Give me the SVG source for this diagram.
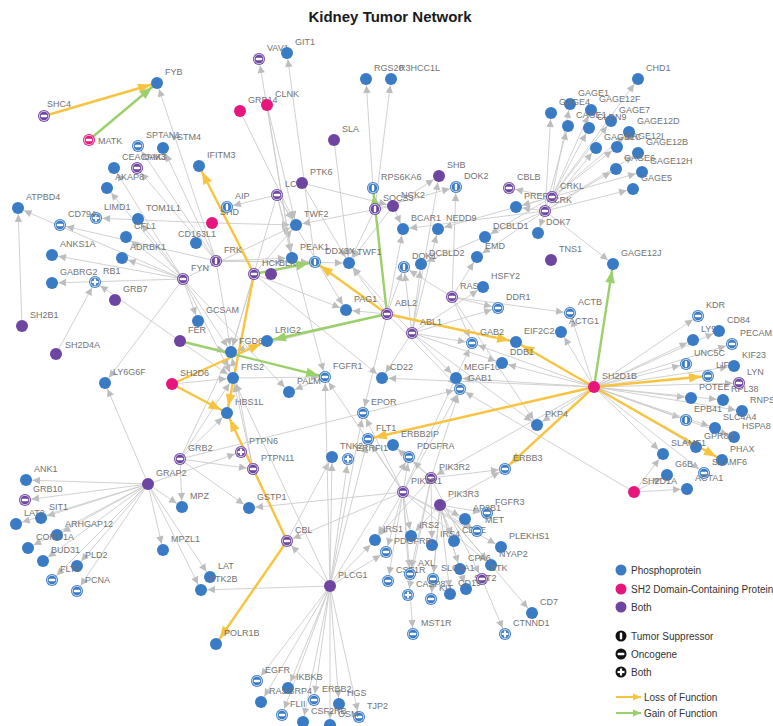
<svg xmlns="http://www.w3.org/2000/svg" xmlns:xlink="http://www.w3.org/1999/xlink" width="773" height="726" viewBox="0 0 773 726">
<style>
.e line{stroke:#cccccc;stroke-width:0.9;marker-end:url(#a)}
.ey line{stroke:#f8c440;stroke-width:2.4;marker-end:url(#ay)}
.eg line{stroke:#9bd06a;stroke-width:2.4;marker-end:url(#ag)}
.b{fill:#3a7bc5}.p{fill:#e6167c}.u{fill:#6f45a2}.k{fill:#111}
.nodes text{font-family:"Liberation Sans",Arial,sans-serif;font-size:9px;fill:#737373}
.lg text{font-family:"Liberation Sans",Arial,sans-serif;font-size:10px;fill:#333}
</style>
<defs>
<marker id="a" markerUnits="userSpaceOnUse" viewBox="0 0 20 10" markerWidth="20" markerHeight="10" refX="20" refY="5" orient="auto"><path d="M6,1.3 L13.5,5 L6,8.7 Z" fill="#bdbdbd"/></marker>
<marker id="ay" markerUnits="userSpaceOnUse" viewBox="0 0 24 12" markerWidth="24" markerHeight="12" refX="24" refY="6" orient="auto"><path d="M5,1.2 L17.5,6 L5,10.8 Z" fill="#f8c440"/></marker>
<marker id="ag" markerUnits="userSpaceOnUse" viewBox="0 0 24 12" markerWidth="24" markerHeight="12" refX="24" refY="6" orient="auto"><path d="M5,1.2 L17.5,6 L5,10.8 Z" fill="#9bd06a"/></marker>
<g id="im"><circle r="4.7" fill="none" stroke="#fff" stroke-width="0.7"/><rect x="-3.3" y="-1.2" width="6.6" height="2.4" rx="1.2" fill="#fff"/></g>
<g id="it"><circle r="4.7" fill="none" stroke="#fff" stroke-width="0.7"/><rect x="-1.2" y="-3.3" width="2.4" height="6.6" rx="1.2" fill="#fff"/></g>
<g id="is"><circle r="4.7" fill="none" stroke="#fff" stroke-width="0.7"/><rect x="-3.3" y="-1.1" width="6.6" height="2.2" fill="#fff"/><rect x="-1.1" y="-3.3" width="2.2" height="6.6" fill="#fff"/></g>
</defs>
<rect width="773" height="726" fill="#fff"/>
<text x="390" y="22" text-anchor="middle" font-family="Liberation Sans,Arial,sans-serif" font-size="15" font-weight="bold" fill="#1a1a1a">Kidney Tumor Network</text>
<g id="connectors">
<g class="e">
<line x1="216" y1="261" x2="157" y2="83"/><line x1="216" y1="261" x2="138" y2="146"/><line x1="216" y1="261" x2="163" y2="148"/>
<line x1="183" y1="279" x2="114" y2="168"/><line x1="216" y1="261" x2="137" y2="168"/><line x1="183" y1="279" x2="107" y2="188"/>
<line x1="212" y1="223" x2="96" y2="218"/><line x1="183" y1="279" x2="138" y2="219"/><line x1="183" y1="279" x2="126" y2="237"/>
<line x1="183" y1="279" x2="122" y2="258"/><line x1="183" y1="279" x2="18" y2="208"/><line x1="22" y1="326" x2="18" y2="208"/>
<line x1="216" y1="261" x2="60" y2="225"/><line x1="183" y1="279" x2="52" y2="255"/><line x1="183" y1="279" x2="52" y2="283"/>
<line x1="180" y1="341" x2="95" y2="282"/><line x1="56" y1="354" x2="95" y2="282"/><line x1="183" y1="279" x2="105" y2="383"/>
<line x1="148" y1="484" x2="105" y2="383"/><line x1="183" y1="279" x2="198" y2="321"/>
<line x1="292" y1="258" x2="259" y2="59"/><line x1="315" y1="262" x2="287" y2="53"/><line x1="240" y1="111" x2="296" y2="225"/>
<line x1="267" y1="105" x2="296" y2="225"/><line x1="267" y1="105" x2="292" y2="258"/><line x1="334" y1="140" x2="349" y2="263"/>
<line x1="373" y1="188" x2="366" y2="79"/><line x1="375" y1="209" x2="391" y2="79"/><line x1="277" y1="195" x2="227" y2="207"/>
<line x1="212" y1="223" x2="296" y2="225"/><line x1="277" y1="195" x2="296" y2="225"/><line x1="302" y1="183" x2="393" y2="206"/>
<line x1="302" y1="183" x2="349" y2="263"/><line x1="183" y1="279" x2="296" y2="225"/><line x1="254" y1="274" x2="296" y2="225"/>
<line x1="393" y1="206" x2="296" y2="225"/><line x1="393" y1="206" x2="349" y2="263"/><line x1="375" y1="209" x2="349" y2="263"/>
<line x1="387" y1="314" x2="349" y2="263"/><line x1="412" y1="333" x2="349" y2="263"/><line x1="216" y1="261" x2="315" y2="262"/>
<line x1="216" y1="261" x2="292" y2="258"/><line x1="277" y1="195" x2="292" y2="258"/>
<line x1="393" y1="206" x2="439" y2="176"/><line x1="375" y1="209" x2="456" y2="187"/><line x1="412" y1="333" x2="439" y2="176"/>
<line x1="452" y1="297" x2="456" y2="187"/><line x1="393" y1="206" x2="403" y2="229"/><line x1="545" y1="211" x2="403" y2="229"/>
<line x1="387" y1="314" x2="403" y2="229"/><line x1="552" y1="197" x2="438" y2="229"/><line x1="412" y1="333" x2="438" y2="229"/>
<line x1="412" y1="333" x2="404" y2="267"/><line x1="387" y1="314" x2="404" y2="267"/><line x1="452" y1="297" x2="404" y2="267"/>
<line x1="545" y1="211" x2="421" y2="264"/><line x1="412" y1="333" x2="421" y2="264"/><line x1="552" y1="197" x2="485" y2="237"/>
<line x1="545" y1="211" x2="477" y2="257"/><line x1="452" y1="297" x2="477" y2="257"/><line x1="552" y1="197" x2="509" y2="188"/>
<line x1="545" y1="211" x2="516" y2="207"/><line x1="552" y1="197" x2="516" y2="207"/><line x1="545" y1="211" x2="538" y2="233"/>
<line x1="552" y1="197" x2="570" y2="104"/><line x1="545" y1="211" x2="551" y2="113"/><line x1="552" y1="197" x2="591" y2="110"/>
<line x1="552" y1="197" x2="611" y2="121"/><line x1="545" y1="211" x2="568" y2="126"/><line x1="552" y1="197" x2="589" y2="128"/>
<line x1="552" y1="197" x2="629" y2="132"/><line x1="545" y1="211" x2="596" y2="148"/><line x1="552" y1="197" x2="617" y2="147"/>
<line x1="545" y1="211" x2="638" y2="153"/><line x1="545" y1="211" x2="616" y2="169"/><line x1="552" y1="197" x2="642" y2="172"/>
<line x1="545" y1="211" x2="633" y2="189"/><line x1="552" y1="197" x2="638" y2="79"/><line x1="545" y1="211" x2="613" y2="264"/>
<line x1="412" y1="333" x2="498" y2="308"/><line x1="452" y1="297" x2="498" y2="308"/><line x1="412" y1="333" x2="483" y2="287"/>
<line x1="452" y1="297" x2="570" y2="313"/><line x1="594" y1="387" x2="570" y2="313"/><line x1="594" y1="387" x2="561" y2="332"/>
<line x1="412" y1="333" x2="472" y2="343"/><line x1="452" y1="297" x2="472" y2="343"/><line x1="403" y1="492" x2="472" y2="343"/>
<line x1="412" y1="333" x2="502" y2="363"/><line x1="594" y1="387" x2="502" y2="363"/><line x1="412" y1="333" x2="456" y2="378"/>
<line x1="594" y1="387" x2="456" y2="378"/><line x1="403" y1="492" x2="460" y2="389"/><line x1="431" y1="478" x2="460" y2="389"/>
<line x1="387" y1="314" x2="460" y2="389"/><line x1="180" y1="459" x2="460" y2="389"/><line x1="634" y1="492" x2="460" y2="389"/>
<line x1="452" y1="297" x2="537" y2="425"/><line x1="594" y1="387" x2="537" y2="425"/><line x1="412" y1="333" x2="537" y2="425"/>
<line x1="431" y1="478" x2="505" y2="469"/><line x1="440" y1="505" x2="505" y2="469"/><line x1="431" y1="478" x2="393" y2="445"/>
<line x1="403" y1="492" x2="409" y2="457"/><line x1="431" y1="478" x2="409" y2="457"/><line x1="330" y1="586" x2="409" y2="457"/>
<line x1="330" y1="586" x2="368" y2="439"/><line x1="403" y1="492" x2="368" y2="439"/><line x1="330" y1="586" x2="348" y2="459"/>
<line x1="330" y1="586" x2="332" y2="457"/><line x1="287" y1="541" x2="332" y2="457"/><line x1="403" y1="492" x2="363" y2="413"/>
<line x1="330" y1="586" x2="363" y2="413"/><line x1="387" y1="314" x2="363" y2="413"/><line x1="594" y1="387" x2="382" y2="378"/>
<line x1="412" y1="333" x2="382" y2="378"/><line x1="330" y1="586" x2="325" y2="377"/><line x1="403" y1="492" x2="325" y2="377"/>
<line x1="233" y1="378" x2="325" y2="377"/><line x1="325" y1="377" x2="289" y2="392"/><line x1="387" y1="314" x2="346" y2="310"/>
<line x1="254" y1="274" x2="346" y2="310"/><line x1="277" y1="195" x2="346" y2="310"/>
<line x1="183" y1="279" x2="231" y2="352"/><line x1="216" y1="261" x2="231" y2="352"/><line x1="180" y1="341" x2="231" y2="352"/>
<line x1="254" y1="274" x2="231" y2="352"/><line x1="180" y1="459" x2="231" y2="352"/><line x1="387" y1="314" x2="231" y2="352"/>
<line x1="253" y1="469" x2="231" y2="352"/><line x1="277" y1="195" x2="231" y2="352"/>
<line x1="183" y1="279" x2="233" y2="378"/><line x1="180" y1="459" x2="233" y2="378"/><line x1="253" y1="469" x2="233" y2="378"/>
<line x1="330" y1="586" x2="233" y2="378"/><line x1="172" y1="384" x2="233" y2="378"/><line x1="180" y1="341" x2="233" y2="378"/>
<line x1="180" y1="459" x2="227" y2="413"/><line x1="148" y1="484" x2="241" y2="452"/><line x1="180" y1="459" x2="253" y2="469"/>
<line x1="180" y1="459" x2="182" y2="507"/><line x1="180" y1="459" x2="249" y2="508"/><line x1="403" y1="492" x2="249" y2="508"/>
<line x1="403" y1="492" x2="287" y2="541"/><line x1="148" y1="484" x2="182" y2="507"/>
<line x1="148" y1="484" x2="26" y2="480"/><line x1="148" y1="484" x2="25" y2="500"/><line x1="148" y1="484" x2="41" y2="518"/>
<line x1="148" y1="484" x2="16" y2="524"/><line x1="148" y1="484" x2="57" y2="535"/><line x1="148" y1="484" x2="28" y2="548"/>
<line x1="148" y1="484" x2="43" y2="561"/><line x1="148" y1="484" x2="77" y2="566"/><line x1="148" y1="484" x2="52" y2="580"/>
<line x1="148" y1="484" x2="77" y2="591"/><line x1="148" y1="484" x2="163" y2="550"/><line x1="148" y1="484" x2="210" y2="577"/>
<line x1="148" y1="484" x2="201" y2="590"/><line x1="330" y1="586" x2="201" y2="590"/><line x1="330" y1="586" x2="287" y2="541"/>
<line x1="330" y1="586" x2="257" y2="681"/><line x1="330" y1="586" x2="288" y2="688"/><line x1="330" y1="586" x2="261" y2="702"/>
<line x1="330" y1="586" x2="282" y2="715"/><line x1="330" y1="586" x2="303" y2="722"/><line x1="330" y1="586" x2="330" y2="725"/>
<line x1="330" y1="586" x2="314" y2="700"/><line x1="330" y1="586" x2="339" y2="704"/><line x1="330" y1="586" x2="359" y2="717"/>
<line x1="330" y1="586" x2="375" y2="540"/><line x1="330" y1="586" x2="386" y2="552"/><line x1="403" y1="492" x2="375" y2="540"/>
<line x1="431" y1="478" x2="375" y2="540"/><line x1="403" y1="492" x2="411" y2="536"/><line x1="440" y1="505" x2="411" y2="536"/>
<line x1="431" y1="478" x2="432" y2="545"/><line x1="403" y1="492" x2="386" y2="552"/><line x1="403" y1="492" x2="388" y2="581"/>
<line x1="403" y1="492" x2="410" y2="574"/><line x1="431" y1="478" x2="410" y2="574"/><line x1="431" y1="478" x2="408" y2="595"/>
<line x1="440" y1="505" x2="431" y2="599"/><line x1="440" y1="505" x2="450" y2="594"/><line x1="440" y1="505" x2="433" y2="579"/>
<line x1="440" y1="505" x2="460" y2="569"/><line x1="440" y1="505" x2="466" y2="589"/><line x1="431" y1="478" x2="482" y2="579"/>
<line x1="440" y1="505" x2="491" y2="565"/><line x1="403" y1="492" x2="491" y2="565"/><line x1="403" y1="492" x2="501" y2="547"/>
<line x1="440" y1="505" x2="454" y2="541"/><line x1="440" y1="505" x2="477" y2="531"/><line x1="403" y1="492" x2="477" y2="531"/>
<line x1="440" y1="505" x2="465" y2="519"/><line x1="440" y1="505" x2="487" y2="513"/><line x1="403" y1="492" x2="413" y2="634"/>
<line x1="482" y1="579" x2="505" y2="634"/><line x1="440" y1="505" x2="532" y2="613"/>
<line x1="594" y1="387" x2="698" y2="316"/><line x1="594" y1="387" x2="693" y2="340"/><line x1="594" y1="387" x2="719" y2="331"/>
<line x1="594" y1="387" x2="732" y2="344"/><line x1="594" y1="387" x2="686" y2="364"/><line x1="594" y1="387" x2="734" y2="366"/>
<line x1="594" y1="387" x2="739" y2="383"/><line x1="594" y1="387" x2="691" y2="398"/><line x1="594" y1="387" x2="723" y2="400"/>
<line x1="594" y1="387" x2="742" y2="411"/><line x1="594" y1="387" x2="686" y2="420"/><line x1="594" y1="387" x2="715" y2="428"/>
<line x1="594" y1="387" x2="734" y2="437"/><line x1="594" y1="387" x2="696" y2="447"/><line x1="594" y1="387" x2="663" y2="454"/>
<line x1="594" y1="387" x2="704" y2="473"/><line x1="634" y1="492" x2="663" y2="454"/><line x1="634" y1="492" x2="667" y2="475"/>
<line x1="634" y1="492" x2="687" y2="489"/><line x1="594" y1="387" x2="431" y2="478"/><line x1="594" y1="387" x2="472" y2="343"/>
<line x1="183" y1="279" x2="289" y2="392"/><line x1="254" y1="274" x2="382" y2="378"/><line x1="216" y1="261" x2="349" y2="263"/>
<line x1="277" y1="195" x2="325" y2="377"/>
</g>
<g class="ey">
<line x1="44" y1="116" x2="157" y2="83"/><line x1="254" y1="274" x2="199" y2="166"/><line x1="254" y1="274" x2="227" y2="413"/>
<line x1="172" y1="384" x2="267" y2="341"/><line x1="172" y1="384" x2="227" y2="413"/><line x1="287" y1="541" x2="227" y2="413"/>
<line x1="287" y1="541" x2="216" y2="644"/><line x1="387" y1="314" x2="315" y2="262"/><line x1="387" y1="314" x2="516" y2="342"/>
<line x1="594" y1="387" x2="516" y2="342"/><line x1="594" y1="387" x2="368" y2="439"/><line x1="594" y1="387" x2="505" y2="469"/>
<line x1="594" y1="387" x2="708" y2="376"/><line x1="594" y1="387" x2="722" y2="460"/>
</g>
<g class="eg">
<line x1="89" y1="140" x2="157" y2="83"/><line x1="254" y1="274" x2="315" y2="262"/><line x1="387" y1="314" x2="267" y2="341"/>
<line x1="387" y1="314" x2="373" y2="188"/><line x1="180" y1="341" x2="325" y2="377"/><line x1="594" y1="387" x2="613" y2="264"/>
</g>
</g>
<g class="nodes">
<g id="n-FYB"><circle class="b" cx="157" cy="83" r="6"/><text x="165" y="74.5">FYB</text></g>
<g id="n-SHC4"><circle class="u" cx="44" cy="116" r="6"/><use href="#im" x="44" y="116"/><text x="47" y="107">SHC4</text></g>
<g id="n-MATK"><circle class="p" cx="89" cy="140" r="6"/><use href="#im" x="89" y="140"/><text x="98" y="143.5">MATK</text></g>
<g id="n-SPTAN1"><circle class="b" cx="138" cy="146" r="6"/><use href="#im" x="138" y="146"/><text x="146" y="137.5">SPTAN1</text></g>
<g id="n-VSTM4"><circle class="b" cx="163" cy="148" r="6"/><text x="171" y="139.5">VSTM4</text></g>
<g id="n-CEACAM3"><circle class="b" cx="114" cy="168" r="6"/><text x="122" y="159.5">CEACAM3</text></g>
<g id="n-JAK3"><circle class="u" cx="137" cy="168" r="6"/><use href="#im" x="137" y="168"/><text x="145" y="159.5">JAK3</text></g>
<g id="n-AKAP8"><circle class="b" cx="107" cy="188" r="6"/><text x="115" y="179.5">AKAP8</text></g>
<g id="n-LIMD1"><circle class="b" cx="96" cy="218" r="6"/><use href="#is" x="96" y="218"/><text x="104" y="209.5">LIMD1</text></g>
<g id="n-TOM1L1"><circle class="b" cx="138" cy="219" r="6"/><text x="146" y="210.5">TOM1L1</text></g>
<g id="n-CFL1"><circle class="b" cx="126" cy="237" r="6"/><text x="134" y="228.5">CFL1</text></g>
<g id="n-ADRBK1"><circle class="b" cx="122" cy="258" r="6"/><text x="130" y="249.5">ADRBK1</text></g>
<g id="n-ATPBD4"><circle class="b" cx="18" cy="208" r="6"/><text x="26" y="199.5">ATPBD4</text></g>
<g id="n-CD79A"><circle class="b" cx="60" cy="225" r="6"/><use href="#im" x="60" y="225"/><text x="68" y="216.5">CD79A</text></g>
<g id="n-ANKS1A"><circle class="b" cx="52" cy="255" r="6"/><text x="60" y="246.5">ANKS1A</text></g>
<g id="n-GABRG2"><circle class="b" cx="52" cy="283" r="6"/><text x="60" y="274.5">GABRG2</text></g>
<g id="n-RB1"><circle class="b" cx="95" cy="282" r="6"/><use href="#is" x="95" y="282"/><text x="103" y="273.5">RB1</text></g>
<g id="n-GRB7"><circle class="u" cx="115" cy="300" r="6"/><text x="123" y="291.5">GRB7</text></g>
<g id="n-SH2B1"><circle class="u" cx="22" cy="326" r="6"/><text x="30" y="317.5">SH2B1</text></g>
<g id="n-SH2D4A"><circle class="u" cx="56" cy="354" r="6"/><text x="65" y="348">SH2D4A</text></g>
<g id="n-LY6G6F"><circle class="b" cx="105" cy="383" r="6"/><text x="113" y="374.5">LY6G6F</text></g>
<g id="n-FYN"><circle class="u" cx="183" cy="279" r="6"/><use href="#im" x="183" y="279"/><text x="191" y="270.5">FYN</text></g>
<g id="n-FRK"><circle class="u" cx="216" cy="261" r="6"/><use href="#it" x="216" y="261"/><text x="224" y="252.5">FRK</text></g>
<g id="n-FER"><circle class="u" cx="180" cy="341" r="6"/><text x="188" y="332.5">FER</text></g>
<g id="n-GCSAM"><circle class="b" cx="198" cy="321" r="6"/><text x="206" y="312.5">GCSAM</text></g>
<g id="n-SH2D6"><circle class="p" cx="172" cy="384" r="6"/><text x="180" y="375.5">SH2D6</text></g>
<g id="n-GRAP2"><circle class="u" cx="148" cy="484" r="6"/><text x="156" y="475.5">GRAP2</text></g>
<g id="n-GRB2"><circle class="u" cx="180" cy="459" r="6"/><use href="#im" x="180" y="459"/><text x="188" y="450.5">GRB2</text></g>
<g id="n-ANK1"><circle class="b" cx="26" cy="480" r="6"/><text x="34" y="471.5">ANK1</text></g>
<g id="n-GRB10"><circle class="u" cx="25" cy="500" r="6"/><use href="#im" x="25" y="500"/><text x="33" y="491.5">GRB10</text></g>
<g id="n-SIT1"><circle class="b" cx="41" cy="518" r="6"/><text x="49" y="509.5">SIT1</text></g>
<g id="n-LAT2"><circle class="b" cx="16" cy="524" r="6"/><text x="24" y="515.5">LAT2</text></g>
<g id="n-ARHGAP12"><circle class="b" cx="57" cy="535" r="6"/><text x="65" y="526.5">ARHGAP12</text></g>
<g id="n-CORO1A"><circle class="b" cx="28" cy="548" r="6"/><text x="36" y="539.5">CORO1A</text></g>
<g id="n-BUD31"><circle class="b" cx="43" cy="561" r="6"/><text x="51" y="552.5">BUD31</text></g>
<g id="n-PLD2"><circle class="b" cx="77" cy="566" r="6"/><text x="85" y="557.5">PLD2</text></g>
<g id="n-FLT3"><circle class="b" cx="52" cy="580" r="6"/><use href="#im" x="52" y="580"/><text x="60" y="571.5">FLT3</text></g>
<g id="n-PCNA"><circle class="b" cx="77" cy="591" r="6"/><use href="#im" x="77" y="591"/><text x="85" y="582.5">PCNA</text></g>
<g id="n-MPZ"><circle class="b" cx="182" cy="507" r="6"/><text x="190" y="498.5">MPZ</text></g>
<g id="n-MPZL1"><circle class="b" cx="163" cy="550" r="6"/><text x="171" y="541.5">MPZL1</text></g>
<g id="n-LAT"><circle class="b" cx="210" cy="577" r="6"/><text x="218" y="568.5">LAT</text></g>
<g id="n-PTK2B"><circle class="b" cx="201" cy="590" r="6"/><text x="209" y="581.5">PTK2B</text></g>
<g id="n-GSTP1"><circle class="b" cx="249" cy="508" r="6"/><text x="257" y="499.5">GSTP1</text></g>
<g id="n-CBL"><circle class="u" cx="287" cy="541" r="6"/><use href="#im" x="287" y="541"/><text x="295" y="532.5">CBL</text></g>
<g id="n-PLCG1"><circle class="u" cx="330" cy="586" r="6"/><text x="338" y="577.5">PLCG1</text></g>
<g id="n-POLR1B"><circle class="b" cx="216" cy="644" r="6"/><text x="224" y="635.5">POLR1B</text></g>
<g id="n-EGFR"><circle class="b" cx="257" cy="681" r="6"/><use href="#im" x="257" y="681"/><text x="265" y="672.5">EGFR</text></g>
<g id="n-IKBKB"><circle class="b" cx="288" cy="688" r="6"/><text x="296" y="679.5">IKBKB</text></g>
<g id="n-RASGRP4"><circle class="b" cx="261" cy="702" r="6"/><text x="269" y="693.5">RASGRP4</text></g>
<g id="n-ERBB2"><circle class="b" cx="314" cy="700" r="6"/><use href="#im" x="314" y="700"/><text x="322" y="691.5">ERBB2</text></g>
<g id="n-HGS"><circle class="b" cx="339" cy="704" r="6"/><text x="347" y="695.5">HGS</text></g>
<g id="n-TJP2"><circle class="b" cx="359" cy="717" r="6"/><use href="#im" x="359" y="717"/><text x="367" y="708.5">TJP2</text></g>
<g id="n-FLII"><circle class="b" cx="282" cy="715" r="6"/><use href="#im" x="282" y="715"/><text x="290" y="706.5">FLII</text></g>
<g id="n-CSF2RB"><circle class="b" cx="303" cy="722" r="6"/><text x="311" y="713.5">CSF2RB</text></g>
<g id="n-OSM"><circle class="b" cx="330" cy="725" r="6"/><text x="338" y="716.5">OSM</text></g>
<g id="n-PTPN6"><circle class="u" cx="241" cy="452" r="6"/><use href="#is" x="241" y="452"/><text x="249" y="443.5">PTPN6</text></g>
<g id="n-PTPN11"><circle class="u" cx="253" cy="469" r="6"/><use href="#im" x="253" y="469"/><text x="261" y="460.5">PTPN11</text></g>
<g id="n-HBS1L"><circle class="b" cx="227" cy="413" r="6"/><text x="235" y="404.5">HBS1L</text></g>
<g id="n-FRS2"><circle class="b" cx="233" cy="378" r="6"/><text x="241" y="369.5">FRS2</text></g>
<g id="n-FGD6"><circle class="b" cx="231" cy="352" r="6"/><text x="239" y="343.5">FGD6</text></g>
<g id="n-LRIG2"><circle class="b" cx="267" cy="341" r="6"/><text x="275" y="332.5">LRIG2</text></g>
<g id="n-PALM"><circle class="b" cx="289" cy="392" r="6"/><text x="297" y="383.5">PALM</text></g>
<g id="n-FGFR1"><circle class="b" cx="325" cy="377" r="6"/><use href="#im" x="325" y="377"/><text x="333" y="368.5">FGFR1</text></g>
<g id="n-PAG1"><circle class="b" cx="346" cy="310" r="6"/><text x="354" y="301.5">PAG1</text></g>
<g id="n-ABL2"><circle class="u" cx="387" cy="314" r="6"/><use href="#im" x="387" y="314"/><text x="395" y="305.5">ABL2</text></g>
<g id="n-ABL1"><circle class="u" cx="412" cy="333" r="6"/><use href="#im" x="412" y="333"/><text x="420" y="324.5">ABL1</text></g>
<g id="n-CD22"><circle class="b" cx="382" cy="378" r="6"/><text x="390" y="369.5">CD22</text></g>
<g id="n-EPOR"><circle class="b" cx="363" cy="413" r="6"/><use href="#im" x="363" y="413"/><text x="371" y="404.5">EPOR</text></g>
<g id="n-FLT1"><circle class="b" cx="368" cy="439" r="6"/><use href="#im" x="368" y="439"/><text x="376" y="430.5">FLT1</text></g>
<g id="n-TNK2"><circle class="b" cx="332" cy="457" r="6"/><text x="340" y="448.5">TNK2</text></g>
<g id="n-ERRFI1"><circle class="b" cx="348" cy="459" r="6"/><use href="#is" x="348" y="459"/><text x="356" y="450.5">ERRFI1</text></g>
<g id="n-ERBB2IP"><circle class="b" cx="393" cy="445" r="6"/><text x="401" y="436.5">ERBB2IP</text></g>
<g id="n-PDGFRA"><circle class="b" cx="409" cy="457" r="6"/><use href="#im" x="409" y="457"/><text x="417" y="448.5">PDGFRA</text></g>
<g id="n-PIK3R2"><circle class="u" cx="431" cy="478" r="6"/><use href="#im" x="431" y="478"/><text x="439" y="469.5">PIK3R2</text></g>
<g id="n-PIK3R1"><circle class="u" cx="403" cy="492" r="6"/><use href="#im" x="403" y="492"/><text x="411" y="483.5">PIK3R1</text></g>
<g id="n-PIK3R3"><circle class="u" cx="440" cy="505" r="6"/><text x="448" y="496.5">PIK3R3</text></g>
<g id="n-FGFR3"><circle class="b" cx="487" cy="513" r="6"/><use href="#im" x="487" y="513"/><text x="495" y="504.5">FGFR3</text></g>
<g id="n-AP2B1"><circle class="b" cx="465" cy="519" r="6"/><text x="473" y="510.5">AP2B1</text></g>
<g id="n-CD3E"><circle class="b" cx="454" cy="541" r="6"/><text x="462" y="532.5">CD3E</text></g>
<g id="n-MET"><circle class="b" cx="477" cy="531" r="6"/><use href="#im" x="477" y="531"/><text x="485" y="522.5">MET</text></g>
<g id="n-PLEKHS1"><circle class="b" cx="501" cy="547" r="6"/><text x="509" y="538.5">PLEKHS1</text></g>
<g id="n-NYAP2"><circle class="b" cx="491" cy="565" r="6"/><text x="499" y="556.5">NYAP2</text></g>
<g id="n-CPA6"><circle class="b" cx="460" cy="569" r="6"/><text x="468" y="560.5">CPA6</text></g>
<g id="n-SYT2"><circle class="b" cx="466" cy="589" r="6"/><text x="474" y="580.5">SYT2</text></g>
<g id="n-BTK"><circle class="u" cx="482" cy="579" r="6"/><use href="#im" x="482" y="579"/><text x="490" y="570.5">BTK</text></g>
<g id="n-CD19"><circle class="b" cx="450" cy="594" r="6"/><text x="458" y="585.5">CD19</text></g>
<g id="n-KIT"><circle class="b" cx="431" cy="599" r="6"/><use href="#im" x="431" y="599"/><text x="439" y="590.5">KIT</text></g>
<g id="n-IRS1"><circle class="b" cx="375" cy="540" r="6"/><text x="383" y="531.5">IRS1</text></g>
<g id="n-IRS2"><circle class="b" cx="411" cy="536" r="6"/><text x="419" y="527.5">IRS2</text></g>
<g id="n-IRS4"><circle class="b" cx="432" cy="545" r="6"/><text x="440" y="536.5">IRS4</text></g>
<g id="n-PDGFRB"><circle class="b" cx="386" cy="552" r="6"/><use href="#im" x="386" y="552"/><text x="394" y="543.5">PDGFRB</text></g>
<g id="n-CSF1R"><circle class="b" cx="388" cy="581" r="6"/><use href="#im" x="388" y="581"/><text x="396" y="572.5">CSF1R</text></g>
<g id="n-AXL"><circle class="b" cx="410" cy="574" r="6"/><use href="#im" x="410" y="574"/><text x="418" y="565.5">AXL</text></g>
<g id="n-SLC4A1"><circle class="b" cx="433" cy="579" r="6"/><use href="#im" x="433" y="579"/><text x="441" y="570.5">SLC4A1</text></g>
<g id="n-CASP8"><circle class="b" cx="408" cy="595" r="6"/><use href="#is" x="408" y="595"/><text x="416" y="586.5">CASP8</text></g>
<g id="n-MST1R"><circle class="b" cx="413" cy="634" r="6"/><use href="#im" x="413" y="634"/><text x="421" y="625.5">MST1R</text></g>
<g id="n-CTNND1"><circle class="b" cx="505" cy="634" r="6"/><use href="#is" x="505" y="634"/><text x="513" y="625.5">CTNND1</text></g>
<g id="n-CD7"><circle class="b" cx="532" cy="613" r="6"/><text x="540" y="604.5">CD7</text></g>
<g id="n-PKP4"><circle class="b" cx="537" cy="425" r="6"/><text x="545" y="416.5">PKP4</text></g>
<g id="n-ERBB3"><circle class="b" cx="505" cy="469" r="6"/><use href="#im" x="505" y="469"/><text x="513" y="460.5">ERBB3</text></g>
<g id="n-MEGF10"><circle class="b" cx="456" cy="378" r="6"/><text x="464" y="369.5">MEGF10</text></g>
<g id="n-GAB1"><circle class="b" cx="460" cy="389" r="6"/><use href="#im" x="460" y="389"/><text x="468" y="380.5">GAB1</text></g>
<g id="n-DDB1"><circle class="b" cx="502" cy="363" r="6"/><text x="510" y="354.5">DDB1</text></g>
<g id="n-GAB2"><circle class="b" cx="472" cy="343" r="6"/><use href="#im" x="472" y="343"/><text x="480" y="334.5">GAB2</text></g>
<g id="n-EIF2C2"><circle class="b" cx="516" cy="342" r="6"/><text x="524" y="333.5">EIF2C2</text></g>
<g id="n-ACTG1"><circle class="b" cx="561" cy="332" r="6"/><text x="569" y="323.5">ACTG1</text></g>
<g id="n-ACTB"><circle class="b" cx="570" cy="313" r="6"/><use href="#im" x="570" y="313"/><text x="578" y="304.5">ACTB</text></g>
<g id="n-DDR1"><circle class="b" cx="498" cy="308" r="6"/><use href="#im" x="498" y="308"/><text x="506" y="299.5">DDR1</text></g>
<g id="n-RASA1"><circle class="u" cx="452" cy="297" r="6"/><use href="#im" x="452" y="297"/><text x="460" y="288.5">RASA1</text></g>
<g id="n-HSFY2"><circle class="b" cx="483" cy="287" r="6"/><text x="491" y="278.5">HSFY2</text></g>
<g id="n-TNS1"><circle class="u" cx="551" cy="260" r="6"/><text x="559" y="251.5">TNS1</text></g>
<g id="n-EMD"><circle class="b" cx="477" cy="257" r="6"/><text x="485" y="248.5">EMD</text></g>
<g id="n-DCBLD1"><circle class="b" cx="485" cy="237" r="6"/><text x="493" y="228.5">DCBLD1</text></g>
<g id="n-DOK7"><circle class="b" cx="538" cy="233" r="6"/><text x="546" y="224.5">DOK7</text></g>
<g id="n-PREP"><circle class="b" cx="516" cy="207" r="6"/><text x="524" y="198.5">PREP</text></g>
<g id="n-CBLB"><circle class="u" cx="509" cy="188" r="6"/><use href="#im" x="509" y="188"/><text x="517" y="179.5">CBLB</text></g>
<g id="n-CRKL"><circle class="u" cx="552" cy="197" r="6"/><use href="#im" x="552" y="197"/><text x="560" y="188.5">CRKL</text></g>
<g id="n-CRK"><circle class="u" cx="545" cy="211" r="6"/><use href="#im" x="545" y="211"/><text x="553" y="202.5">CRK</text></g>
<g id="n-SHB"><circle class="u" cx="439" cy="176" r="6"/><text x="447" y="167.5">SHB</text></g>
<g id="n-DOK2"><circle class="b" cx="456" cy="187" r="6"/><use href="#it" x="456" y="187"/><text x="464" y="178.5">DOK2</text></g>
<g id="n-BCAR1"><circle class="b" cx="403" cy="229" r="6"/><text x="411" y="220.5">BCAR1</text></g>
<g id="n-NEDD9"><circle class="b" cx="438" cy="229" r="6"/><text x="446" y="220.5">NEDD9</text></g>
<g id="n-DOK1"><circle class="b" cx="404" cy="267" r="6"/><use href="#it" x="404" y="267"/><text x="412" y="258.5">DOK1</text></g>
<g id="n-DCBLD2"><circle class="b" cx="421" cy="264" r="6"/><text x="429" y="255.5">DCBLD2</text></g>
<g id="n-RPS6KA6"><circle class="b" cx="373" cy="188" r="6"/><use href="#it" x="373" y="188"/><text x="381" y="179.5">RPS6KA6</text></g>
<g id="n-SOCS3"><circle class="u" cx="375" cy="209" r="6"/><use href="#it" x="375" y="209"/><text x="383" y="200.5">SOCS3</text></g>
<g id="n-NCK2"><circle class="u" cx="393" cy="206" r="6"/><text x="401" y="197.5">NCK2</text></g>
<g id="n-TWF1"><circle class="b" cx="349" cy="263" r="6"/><text x="357" y="254.5">TWF1</text></g>
<g id="n-PEAK1"><circle class="b" cx="292" cy="258" r="6"/><text x="300" y="249.5">PEAK1</text></g>
<g id="n-DDX3X"><circle class="b" cx="315" cy="262" r="6"/><use href="#it" x="315" y="262"/><text x="325" y="253.5">DDX3X</text></g>
<g id="n-HCK"><circle class="u" cx="254" cy="274" r="6"/><use href="#im" x="254" y="274"/><text x="262" y="265.5">HCK</text></g>
<g id="n-BLK"><circle class="u" cx="271" cy="274" r="6"/><text x="279" y="265.5">BLK</text></g>
<g id="n-TWF2"><circle class="b" cx="296" cy="225" r="6"/><text x="304" y="216.5">TWF2</text></g>
<g id="n-LCK"><circle class="u" cx="277" cy="195" r="6"/><use href="#im" x="277" y="195"/><text x="285" y="186.5">LCK</text></g>
<g id="n-PTK6"><circle class="u" cx="302" cy="183" r="6"/><text x="310" y="174.5">PTK6</text></g>
<g id="n-SHD"><circle class="p" cx="212" cy="223" r="6"/><text x="220" y="214.5">SHD</text></g>
<g id="n-AIP"><circle class="b" cx="227" cy="207" r="6"/><use href="#it" x="227" y="207"/><text x="235" y="198.5">AIP</text></g>
<g id="n-CD163L1"><circle class="b" cx="196" cy="243" r="6"/><text x="178" y="236.5">CD163L1</text></g>
<g id="n-IFITM3"><circle class="b" cx="199" cy="166" r="6"/><text x="207" y="157.5">IFITM3</text></g>
<g id="n-SLA"><circle class="u" cx="334" cy="140" r="6"/><text x="342" y="131.5">SLA</text></g>
<g id="n-GRB14"><circle class="p" cx="240" cy="111" r="6"/><text x="248" y="102.5">GRB14</text></g>
<g id="n-CLNK"><circle class="p" cx="267" cy="105" r="6"/><text x="275" y="96.5">CLNK</text></g>
<g id="n-VAV1"><circle class="u" cx="259" cy="59" r="6"/><use href="#im" x="259" y="59"/><text x="267" y="50.5">VAV1</text></g>
<g id="n-GIT1"><circle class="b" cx="287" cy="53" r="6"/><text x="295" y="44.5">GIT1</text></g>
<g id="n-RGS20"><circle class="b" cx="366" cy="79" r="6"/><text x="374" y="70.5">RGS20</text></g>
<g id="n-R3HCC1L"><circle class="b" cx="391" cy="79" r="6"/><text x="399" y="70.5">R3HCC1L</text></g>
<g id="n-GAGE12J"><circle class="b" cx="613" cy="264" r="6"/><text x="621" y="255.5">GAGE12J</text></g>
<g id="n-SH2D1B"><circle class="p" cx="594" cy="387" r="6"/><text x="602" y="378.5">SH2D1B</text></g>
<g id="n-KDR"><circle class="b" cx="698" cy="316" r="6"/><use href="#im" x="698" y="316"/><text x="706" y="307.5">KDR</text></g>
<g id="n-LY9"><circle class="b" cx="693" cy="340" r="6"/><text x="701" y="331.5">LY9</text></g>
<g id="n-CD84"><circle class="b" cx="719" cy="331" r="6"/><text x="727" y="322.5">CD84</text></g>
<g id="n-PECAM1"><circle class="b" cx="732" cy="344" r="6"/><use href="#im" x="732" y="344"/><text x="740" y="335.5">PECAM1</text></g>
<g id="n-UNC5C"><circle class="b" cx="686" cy="364" r="6"/><use href="#it" x="686" y="364"/><text x="694" y="355.5">UNC5C</text></g>
<g id="n-LIFR"><circle class="b" cx="708" cy="376" r="6"/><use href="#im" x="708" y="376"/><text x="716" y="367.5">LIFR</text></g>
<g id="n-KIF23"><circle class="b" cx="734" cy="366" r="6"/><text x="742" y="357.5">KIF23</text></g>
<g id="n-POTEE"><circle class="b" cx="691" cy="398" r="6"/><text x="699" y="389.5">POTEE</text></g>
<g id="n-RPL38"><circle class="b" cx="723" cy="400" r="6"/><text x="731" y="391.5">RPL38</text></g>
<g id="n-LYN"><circle class="u" cx="739" cy="383" r="6"/><use href="#im" x="739" y="383"/><text x="747" y="374.5">LYN</text></g>
<g id="n-RNPS1"><circle class="b" cx="742" cy="411" r="6"/><text x="750" y="402.5">RNPS1</text></g>
<g id="n-EPB41"><circle class="b" cx="686" cy="420" r="6"/><use href="#it" x="686" y="420"/><text x="694" y="411.5">EPB41</text></g>
<g id="n-SLC4A4"><circle class="b" cx="715" cy="428" r="6"/><text x="723" y="419.5">SLC4A4</text></g>
<g id="n-HSPA8"><circle class="b" cx="734" cy="437" r="6"/><text x="742" y="428.5">HSPA8</text></g>
<g id="n-GPR85"><circle class="b" cx="696" cy="447" r="6"/><text x="704" y="438.5">GPR85</text></g>
<g id="n-SLAMF1"><circle class="b" cx="663" cy="454" r="6"/><text x="671" y="445.5">SLAMF1</text></g>
<g id="n-PHAX"><circle class="b" cx="722" cy="460" r="6"/><text x="730" y="451.5">PHAX</text></g>
<g id="n-SLAMF6"><circle class="b" cx="704" cy="473" r="6"/><use href="#im" x="704" y="473"/><text x="712" y="464.5">SLAMF6</text></g>
<g id="n-G6B"><circle class="b" cx="667" cy="475" r="6"/><text x="675" y="466.5">G6B</text></g>
<g id="n-ACTA1"><circle class="b" cx="687" cy="489" r="6"/><text x="695" y="480.5">ACTA1</text></g>
<g id="n-SH2D1A"><circle class="p" cx="634" cy="492" r="6"/><text x="642" y="483.5">SH2D1A</text></g>
<g id="n-CHD1"><circle class="b" cx="638" cy="79" r="6"/><text x="646" y="70.5">CHD1</text></g>
<g id="n-GAGE1"><circle class="b" cx="570" cy="104" r="6"/><text x="578" y="95.5">GAGE1</text></g>
<g id="n-GAGE4"><circle class="b" cx="551" cy="113" r="6"/><text x="559" y="104.5">GAGE4</text></g>
<g id="n-GAGE12F"><circle class="b" cx="591" cy="110" r="6"/><text x="599" y="101.5">GAGE12F</text></g>
<g id="n-GAGE7"><circle class="b" cx="611" cy="121" r="6"/><text x="619" y="112.5">GAGE7</text></g>
<g id="n-CAGE1"><circle class="b" cx="568" cy="126" r="6"/><text x="576" y="117.5">CAGE1</text></g>
<g id="n-CLDN9"><circle class="b" cx="589" cy="128" r="6"/><text x="597" y="119.5">CLDN9</text></g>
<g id="n-GAGE12D"><circle class="b" cx="629" cy="132" r="6"/><text x="637" y="123.5">GAGE12D</text></g>
<g id="n-GAGE2C"><circle class="b" cx="596" cy="148" r="6"/><text x="604" y="139.5">GAGE2C</text></g>
<g id="n-GAGE12I"><circle class="b" cx="617" cy="147" r="6"/><text x="625" y="138.5">GAGE12I</text></g>
<g id="n-GAGE12B"><circle class="b" cx="638" cy="153" r="6"/><text x="646" y="144.5">GAGE12B</text></g>
<g id="n-GAGE6"><circle class="b" cx="616" cy="169" r="6"/><text x="624" y="160.5">GAGE6</text></g>
<g id="n-GAGE12H"><circle class="b" cx="642" cy="172" r="6"/><text x="650" y="163.5">GAGE12H</text></g>
<g id="n-GAGE5"><circle class="b" cx="633" cy="189" r="6"/><text x="641" y="180.5">GAGE5</text></g>
</g>
<g id="legend" class="lg">
<circle class="b" cx="621" cy="570" r="5.5"/><text x="631" y="573.5">Phosphoprotein</text>
<circle class="p" cx="621" cy="589" r="5.5"/><text x="631" y="592.5">SH2 Domain-Containing Protein</text>
<circle class="u" cx="621" cy="607" r="5.5"/><text x="631" y="610.5">Both</text>
<circle class="k" cx="621" cy="636" r="5.5"/><rect x="619.8" y="632.5" width="2.4" height="7" rx="1.2" fill="#fff"/><text x="631" y="639.5">Tumor Suppressor</text>
<circle class="k" cx="621" cy="654" r="5.5"/><rect x="617.5" y="652.8" width="7" height="2.4" rx="1.2" fill="#fff"/><text x="631" y="657.5">Oncogene</text>
<circle class="k" cx="621" cy="672" r="5.5"/><rect x="617.5" y="670.9" width="7" height="2.2" fill="#fff"/><rect x="619.9" y="668.5" width="2.2" height="7" fill="#fff"/><text x="631" y="675.5">Both</text>
<line x1="616" y1="697" x2="641" y2="697" stroke="#f8c440" stroke-width="2"/><path d="M633,693.5 L641,697 L633,700.5 Z" fill="#f8c440"/><text x="644" y="700.5">Loss of Function</text>
<line x1="616" y1="713" x2="641" y2="713" stroke="#9bd06a" stroke-width="2"/><path d="M633,709.5 L641,713 L633,716.5 Z" fill="#9bd06a"/><text x="644" y="716.5">Gain of Function</text>
</g>
</svg>
